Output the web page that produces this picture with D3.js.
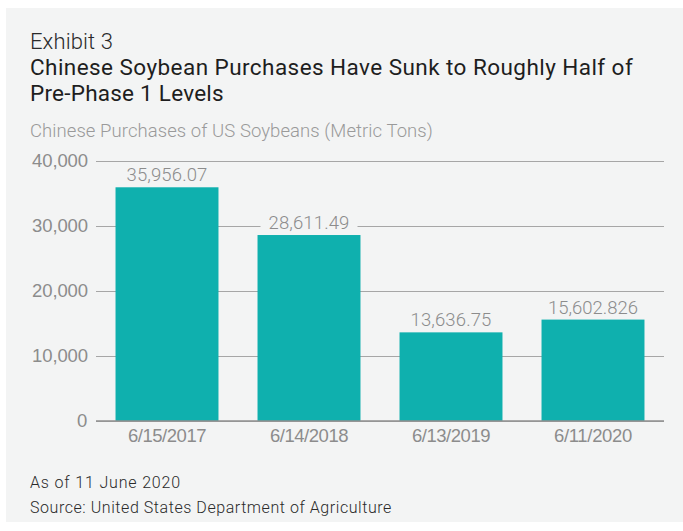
<!DOCTYPE html>
<html>
<head>
<meta charset="utf-8">
<script src="https://cdn.jsdelivr.net/npm/d3@7"></script>
<style>
  body { margin: 0; background: #fff; }
  svg { display: block; font-family: Roboto, "Liberation Sans", sans-serif; }
</style>
</head>
<body>
<svg id="chart" width="683" height="531"></svg>
<script>
const dates = ["6/15/2017", "6/14/2018", "6/13/2019", "6/11/2020"];
const purchases = [35956.07, 28611.49, 13636.75, 15602.826];
const valueLabels = ["35,956.07", "28,611.49", "13,636.75", "15,602.826"];
const yTicks = [0, 10000, 20000, 30000, 40000];

const BG = "#f3f4f4";
const BAR = "#0fb0ae";
const LABEL = "#8c8c8c";

const svg = d3.select("#chart");

// stretch or squeeze the tracking so a text line spans the width seen in the original
const fitWidth = (sel, target) => {
    const n = sel.text().length;
    const w = sel.node().getComputedTextLength();
    sel.attr("letter-spacing", ((target - w) / n).toFixed(2));
};

svg.append("rect")
    .attr("x", 6).attr("y", 8)
    .attr("width", 677).attr("height", 514)
    .attr("fill", BG);

// header
svg.append("text").attr("x", 30).attr("y", 49)
    .attr("font-size", 22).attr("font-weight", 300).attr("fill", "#2a2a2a")
    .text("Exhibit 3")
    .call(fitWidth, 83);
svg.append("text").attr("x", 30).attr("y", 75)
    .attr("font-size", 22.5).attr("fill", "#1e1e1e")
    .text("Chinese Soybean Purchases Have Sunk to Roughly Half of")
    .call(fitWidth, 603);
svg.append("text").attr("x", 30).attr("y", 101)
    .attr("font-size", 22.5).attr("fill", "#1e1e1e")
    .text("Pre-Phase 1 Levels")
    .call(fitWidth, 194);
svg.append("text").attr("x", 30).attr("y", 137)
    .attr("font-size", 18.5).attr("font-weight", 300).attr("fill", "#9a9a9a")
    .text("Chinese Purchases of US Soybeans (Metric Tons)")
    .call(fitWidth, 403);

const x = d3.scaleBand()
    .domain(dates)
    .range([96, 664])
    .paddingInner(0.275)
    .paddingOuter(0.1375);

const y = d3.scaleLinear()
    .domain([0, 40000])
    .range([421, 161]);

// gridlines + y labels
const grid = svg.append("g")
    .attr("transform", "translate(96,0)")
    .call(d3.axisLeft(y).tickValues(yTicks).tickSize(-568).tickFormat(d3.format(",")).tickPadding(8));
grid.select(".domain").remove();
grid.selectAll(".tick line").attr("stroke", "#a6a6a6");
grid.selectAll(".tick text")
    .attr("font-size", 18.5).attr("font-weight", 300).attr("fill", LABEL).attr("font-family", null)
    .each(function () { fitWidth(d3.select(this), this.textContent === "0" ? 11 : 56); });

// bars
svg.append("g").selectAll("rect")
    .data(purchases)
    .join("rect")
    .attr("x", (d, i) => x(dates[i]))
    .attr("y", d => y(d))
    .attr("width", x.bandwidth())
    .attr("height", d => y(0) - y(d))
    .attr("fill", BAR);

// baseline on top of bars
svg.append("line")
    .attr("x1", 96).attr("x2", 664)
    .attr("y1", y(0)).attr("y2", y(0))
    .attr("stroke", "#8f8f8f").attr("stroke-width", 1.5);

// value labels, knocked out of the gridlines
const labels = svg.append("g").selectAll("g")
    .data(purchases)
    .join("g");
labels.append("text")
    .attr("x", (d, i) => x(dates[i]) + x.bandwidth() / 2)
    .attr("y", d => y(d) - 6)
    .attr("text-anchor", "middle")
    .attr("font-size", 18.5).attr("font-weight", 300).attr("fill", LABEL)
    .text((d, i) => valueLabels[i])
    .each(function () { fitWidth(d3.select(this), this.textContent.length * 9); });
labels.each(function () {
    const b = d3.select(this).select("text").node().getBBox();
    d3.select(this).insert("rect", "text")
        .attr("x", b.x - 8).attr("y", b.y)
        .attr("width", b.width + 16).attr("height", b.height)
        .attr("fill", BG);
});

// x labels
const xAxis = svg.append("g")
    .attr("transform", `translate(0,${y(0)})`)
    .call(d3.axisBottom(x).tickSize(0).tickPadding(8));
xAxis.select(".domain").remove();
xAxis.selectAll(".tick text")
    .attr("font-size", 18.5).attr("font-weight", 300).attr("fill", LABEL).attr("font-family", null)
    .each(function () { fitWidth(d3.select(this), 78); });

// footer
svg.append("text").attr("x", 30).attr("y", 488)
    .attr("font-size", 16).attr("font-weight", 300).attr("fill", "#2a2a2a")
    .text("As of 11 June 2020")
    .call(fitWidth, 151);
svg.append("text").attr("x", 30).attr("y", 513)
    .attr("font-size", 16).attr("font-weight", 300).attr("fill", "#2a2a2a")
    .text("Source: United States Department of Agriculture")
    .call(fitWidth, 362);
</script>
</body>
</html>
